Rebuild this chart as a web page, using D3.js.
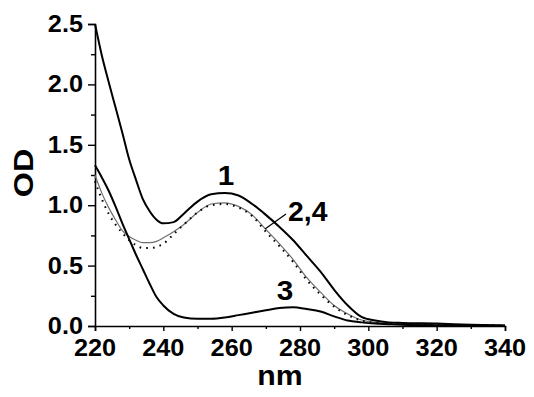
<!DOCTYPE html>
<html>
<head>
<meta charset="utf-8">
<script src="https://cdn.jsdelivr.net/npm/d3@7"></script>
<style>
  body { margin: 0; background: #fff; }
  text { font-family: "Liberation Sans", Arial, sans-serif; font-weight: bold; fill: #000; }
</style>
</head>
<body>
<div id="chart"></div>
<script>
// wavelengths (nm)
const nm = [220, 222, 224, 226, 228, 230, 232, 234, 236, 238, 240, 243, 246, 250, 254, 258,
            262, 266, 270, 274, 278, 282, 286, 290, 294, 298, 302, 306, 310, 320, 330, 340];

// optical density, curves 1..4
const od1 = [2.50, 2.24, 2.02, 1.81, 1.60, 1.38, 1.21, 1.05, 0.95, 0.88, 0.85, 0.86, 0.93, 1.03, 1.09, 1.10,
             1.08, 1.01, 0.92, 0.82, 0.71, 0.58, 0.45, 0.30, 0.17, 0.075, 0.045, 0.03, 0.025, 0.02, 0.01, 0.005];
const od2 = [1.25, 1.10, 0.98, 0.88, 0.79, 0.74, 0.71, 0.69, 0.69, 0.70, 0.73, 0.78, 0.84, 0.94, 1.01, 1.02,
             0.99, 0.92, 0.80, 0.68, 0.55, 0.40, 0.28, 0.17, 0.10, 0.05, 0.03, 0.02, 0.015, 0.01, 0.008, 0.005];
const od3 = [1.33, 1.23, 1.12, 0.99, 0.85, 0.72, 0.59, 0.47, 0.35, 0.24, 0.17, 0.10, 0.07, 0.06, 0.06, 0.07,
             0.09, 0.11, 0.13, 0.15, 0.155, 0.14, 0.12, 0.08, 0.045, 0.03, 0.02, 0.015, 0.01, 0.005, 0.003, 0.002];
const od4 = [1.20, 1.05, 0.93, 0.84, 0.77, 0.71, 0.67, 0.645, 0.645, 0.655, 0.68, 0.76, 0.84, 0.94, 1.00, 1.01,
             0.98, 0.91, 0.78, 0.66, 0.53, 0.38, 0.26, 0.16, 0.09, 0.045, 0.025, 0.02, 0.015, 0.01, 0.005, 0.003];

const xTicks = [220, 240, 260, 280, 300, 320, 340];
const xMinor = [230, 250, 270, 290, 310, 330];
const yTicks = [0, 0.5, 1.0, 1.5, 2.0, 2.5];
const yMinor = [0.25, 0.75, 1.25, 1.75, 2.25];

const width = 534, height = 397;
const margin = { left: 95, right: 29, top: 24, bottom: 71 };

const svg = d3.select("#chart").append("svg")
    .attr("width", width)
    .attr("height", height);

const x = d3.scaleLinear().domain([220, 340]).range([margin.left, width - margin.right]);
const y = d3.scaleLinear().domain([0, 2.5]).range([height - margin.bottom, margin.top]);

// axes
const xAxis = svg.append("g").attr("transform", `translate(0,${y(0)})`);
xAxis.call(d3.axisBottom(x).tickValues(xTicks).tickSize(5).tickFormat(""));
xAxis.append("g").call(d3.axisBottom(x).tickValues(xMinor).tickSize(3).tickFormat(""))
    .select(".domain").remove();

const yAxis = svg.append("g").attr("transform", `translate(${x(220)},0)`);
yAxis.call(d3.axisLeft(y).tickValues(yTicks).tickSize(7).tickFormat(""));
yAxis.append("g").call(d3.axisLeft(y).tickValues(yMinor).tickSize(4).tickFormat(""))
    .select(".domain").remove();

svg.selectAll(".domain").attr("stroke", "#000").attr("stroke-width", 1.6);
svg.selectAll(".tick line").attr("stroke", "#000").attr("stroke-width", 1.4);

// tick labels (slightly wide, as in the original)
svg.selectAll(".xlab").data(xTicks).enter().append("text")
    .attr("transform", d => `translate(${x(d)},${y(0) + 30}) scale(1.1,1)`)
    .attr("text-anchor", "middle")
    .style("font-size", "23px")
    .text(d => d);

svg.selectAll(".ylab").data(yTicks).enter().append("text")
    .attr("transform", d => `translate(${x(220) - 12},${y(d) + 8}) scale(1.1,1)`)
    .attr("text-anchor", "end")
    .style("font-size", "23px")
    .text(d => d.toFixed(1));

// axis titles
svg.append("text")
    .attr("transform", "translate(280,385) scale(1.12,1)")
    .attr("text-anchor", "middle")
    .style("font-size", "27px")
    .text("nm");

svg.append("text")
    .attr("transform", "translate(33,173) rotate(-90) scale(1.15,1)")
    .attr("text-anchor", "middle")
    .style("font-size", "28px")
    .text("OD");

// curves
const line = vals => d3.line()
    .x((d, i) => x(nm[i]))
    .y(d => y(d))
    .curve(d3.curveMonotoneX)(vals);

svg.append("path").attr("d", line(od2))
    .attr("fill", "none").attr("stroke", "#6e6e6e").attr("stroke-width", 1.2);
svg.append("path").attr("d", line(od4))
    .attr("fill", "none").attr("stroke", "#000").attr("stroke-width", 2)
    .attr("stroke-dasharray", "1.6,5.2");
svg.append("path").attr("d", line(od3))
    .attr("fill", "none").attr("stroke", "#000").attr("stroke-width", 2);
svg.append("path").attr("d", line(od1))
    .attr("fill", "none").attr("stroke", "#000").attr("stroke-width", 2);

// curve labels
svg.append("text").attr("transform", "translate(226,185) scale(1.1,1)").attr("text-anchor", "middle")
    .style("font-size", "27px").text("1");
svg.append("text").attr("transform", "translate(288,221) scale(1.05,1)")
    .style("font-size", "27px").text("2,4");
svg.append("text").attr("transform", "translate(285,300) scale(1.1,1)").attr("text-anchor", "middle")
    .style("font-size", "27px").text("3");

svg.append("line")
    .attr("x1", 265).attr("y1", 229).attr("x2", 286).attr("y2", 214)
    .attr("stroke", "#000").attr("stroke-width", 1.2);
</script>
</body>
</html>
